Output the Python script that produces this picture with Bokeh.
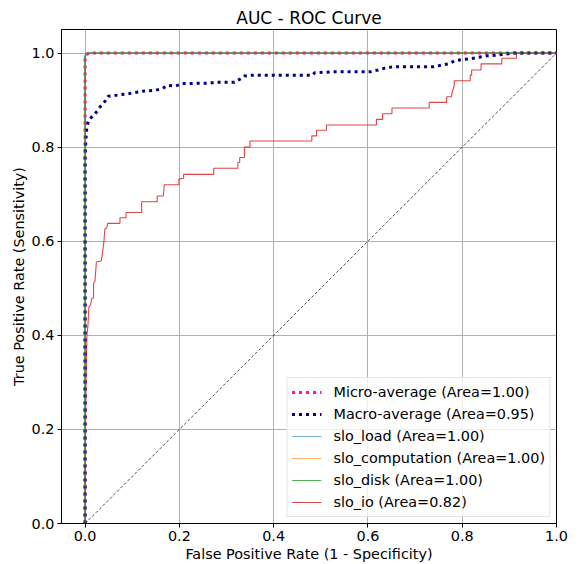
from bokeh.plotting import figure
from bokeh.models import Legend, LegendItem, FixedTicker, Range1d, CustomJSTickFormatter
from bokeh.embed import file_html
from bokeh.resources import INLINE

# ---- data ----
diag_x = [0.0, 1.0]
diag_y = [0.0, 1.0]

micro_fpr = [0.0, 0.0, 0.003, 0.01, 1.0]
micro_tpr = [0.0, 0.99, 0.997, 1.0, 1.0]

load_fpr = [0.0, 0.0, 0.004, 1.0]
load_tpr = [0.0, 0.993, 1.0, 1.0]

comp_fpr = [0.0, 0.0, 0.004, 1.0]
comp_tpr = [0.0, 0.995, 1.0, 1.0]

disk_fpr = [0.0, 0.0, 0.005, 1.0]
disk_tpr = [0.0, 0.994, 1.0, 1.0]

macro_fpr = [0.0, 0.0, 0.002, 0.004, 0.0085, 0.019, 0.026, 0.033, 0.042, 0.049, 0.065,
             0.094, 0.122, 0.15, 0.165, 0.175, 0.193, 0.207, 0.264, 0.278, 0.317, 0.328,
             0.338, 0.352, 0.483, 0.487, 0.526, 0.604, 0.622, 0.64, 0.66, 0.74, 0.771,
             0.785, 0.817, 0.853, 0.877, 0.909, 1.0]
macro_tpr = [0.0, 0.78, 0.82, 0.845, 0.859, 0.868, 0.877, 0.887, 0.897, 0.908, 0.910,
             0.914, 0.919, 0.921, 0.925, 0.931, 0.930, 0.935, 0.936, 0.938, 0.938, 0.944,
             0.951, 0.953, 0.953, 0.958, 0.960, 0.960, 0.964, 0.969, 0.971, 0.971, 0.977,
             0.984, 0.988, 0.994, 0.996, 1.0, 1.0]

io_fpr = [0.0, 0.0, 0.002, 0.004, 0.006, 0.008, 0.012, 0.014, 0.018, 0.018, 0.021, 0.024,
          0.034, 0.036, 0.040, 0.042, 0.046, 0.048, 0.074, 0.074, 0.087, 0.087, 0.12, 0.12,
          0.153, 0.153, 0.166, 0.168, 0.199, 0.199, 0.209, 0.209, 0.273, 0.273, 0.324, 0.324,
          0.328, 0.328, 0.338, 0.338, 0.35, 0.35, 0.481, 0.481, 0.491, 0.491, 0.512, 0.512,
          0.618, 0.618, 0.631, 0.631, 0.651, 0.651, 0.730, 0.730, 0.767, 0.767, 0.777, 0.779,
          0.783, 0.783, 0.817, 0.817, 0.82, 0.82, 0.84, 0.84, 0.884, 0.884, 0.915, 0.915, 1.0]
io_tpr = [0.0, 0.10, 0.30, 0.40, 0.42, 0.46, 0.465, 0.478, 0.48, 0.51, 0.515, 0.556,
          0.558, 0.567, 0.60, 0.626, 0.628, 0.638, 0.638, 0.650, 0.650, 0.661, 0.661, 0.684,
          0.684, 0.696, 0.696, 0.72, 0.72, 0.732, 0.734, 0.742, 0.742, 0.755, 0.755, 0.767,
          0.768, 0.778, 0.778, 0.80, 0.80, 0.813, 0.813, 0.824, 0.824, 0.836, 0.836, 0.847,
          0.847, 0.859, 0.859, 0.871, 0.871, 0.883, 0.883, 0.895, 0.895, 0.907, 0.907, 0.918,
          0.93, 0.941, 0.941, 0.953, 0.953, 0.964, 0.964, 0.977, 0.977, 0.989, 0.989, 1.0, 1.0]

labels = ["Micro-average (Area=1.00)", "Macro-average (Area=0.95)",
          "slo_load (Area=1.00)", "slo_computation (Area=1.00)",
          "slo_disk (Area=1.00)", "slo_io (Area=0.82)"]
ticks = [0.0, 0.2, 0.4, 0.6, 0.8, 1.0]

FONT = "DejaVu Sans"
FS = "14.4px"

p = figure(width=582, height=564, output_backend="svg", toolbar_location=None,
           x_range=Range1d(-0.05, 1.0), y_range=Range1d(0.0, 1.05),
           title="AUC - ROC Curve",
           min_border_left=61, min_border_right=26, min_border_top=29, min_border_bottom=41)

p.title.align = "center"
p.title.text_font = FONT
p.title.text_font_size = "17px"
p.title.text_font_style = "normal"
p.title.text_color = "black"
p.title.offset = 0
p.title.standoff = 3

p.outline_line_color = "black"
p.outline_line_width = 1
p.background_fill_color = "white"
p.border_fill_color = "white"

for ax in (p.xaxis[0], p.yaxis[0]):
    ax.ticker = FixedTicker(ticks=ticks)
    ax.major_label_text_font = FONT
    ax.major_label_text_font_size = FS
    ax.major_label_text_color = "black"
    ax.axis_label_text_font = FONT
    ax.axis_label_text_font_size = FS
    ax.axis_label_text_font_style = "normal"
    ax.axis_label_text_color = "black"
    ax.major_tick_out = 4
    ax.major_tick_in = 0
    ax.minor_tick_out = 0
    ax.minor_tick_in = 0
    ax.axis_line_color = "black"
    ax.major_tick_line_color = "black"
    ax.major_label_standoff = 3
    ax.axis_label_standoff = 2
    ax.formatter = CustomJSTickFormatter(code="return tick.toFixed(1);")

p.xaxis.axis_label = "False Positive Rate (1 - Specificity)"
p.yaxis.axis_label = "True Positive Rate (Sensitivity)"

p.grid.grid_line_color = "#b0b0b0"
p.grid.grid_line_width = 1
p.xgrid.ticker = FixedTicker(ticks=ticks)
p.ygrid.ticker = FixedTicker(ticks=ticks)

r_diag = p.line(diag_x, diag_y, line_color="black", line_width=0.7, line_dash="3 2")

r_load = p.line(load_fpr, load_tpr, line_color="#1f77b4", line_alpha=0.6, line_width=1.2)
r_comp = p.line(comp_fpr, comp_tpr, line_color="#ff7f0e", line_alpha=0.6, line_width=1.2)
r_disk = p.line(disk_fpr, disk_tpr, line_color="#2ca02c", line_alpha=0.8, line_width=1.2)
r_io = p.line(io_fpr, io_tpr, line_color="#d62728", line_alpha=0.85, line_width=1.1)
r_micro = p.line(micro_fpr, micro_tpr, line_color="#ff1493", line_width=3, line_dash="3 4")
r_macro = p.line(macro_fpr, macro_tpr, line_color="#000080", line_width=3, line_dash="3 4")
# green drawn again on top, as in the reference
r_disk2 = p.line(disk_fpr, disk_tpr, line_color="#2ca02c", line_alpha=0.8, line_width=1.2)

legend = Legend(items=[
    LegendItem(label=labels[0], renderers=[r_micro]),
    LegendItem(label=labels[1], renderers=[r_macro]),
    LegendItem(label=labels[2], renderers=[r_load]),
    LegendItem(label=labels[3], renderers=[r_comp]),
    LegendItem(label=labels[4], renderers=[r_disk]),
    LegendItem(label=labels[5], renderers=[r_io]),
], location="bottom_right")
legend.label_text_font = FONT
legend.label_text_font_size = FS
legend.label_text_color = "black"
legend.glyph_width = 30
legend.glyph_height = 20
legend.label_height = 20
legend.spacing = 2
legend.padding = 4
legend.margin = 6
legend.label_standoff = 12
legend.border_line_color = "#cccccc"
legend.border_line_width = 1
legend.background_fill_alpha = 0.8
p.add_layout(legend)

open("out.html", "w").write(file_html(p, INLINE))
